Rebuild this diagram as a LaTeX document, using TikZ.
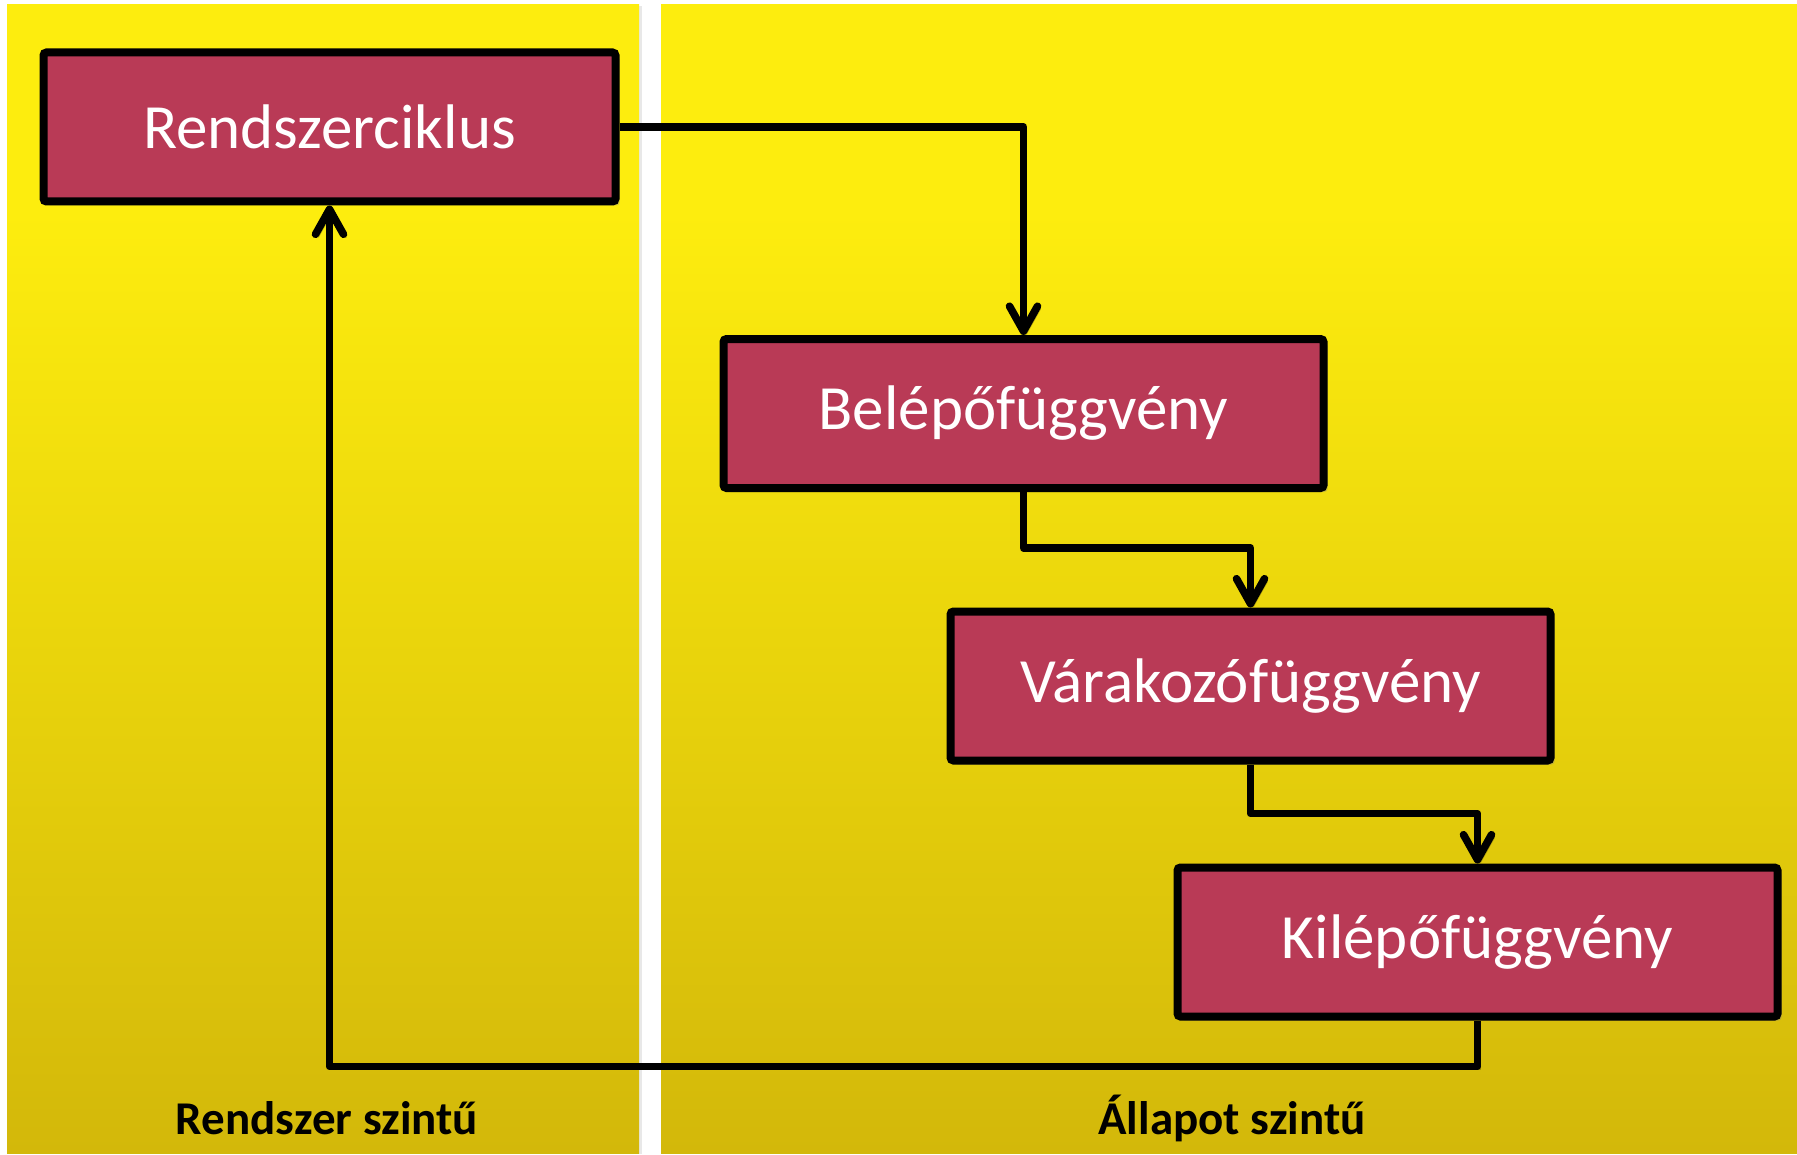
\documentclass[tikz,border=0pt]{standalone}
\usepackage{fontspec}
\setmainfont{Carlito}
\usetikzlibrary{arrows.meta,shadows}

\definecolor{boxfill}{RGB}{185,58,86}
\definecolor{ytop}{RGB}{253,237,14}
\definecolor{ybot}{RGB}{211,184,10}

% yellow column background, bright at the top, darker towards the bottom
\pgfdeclareverticalshading{panelshade}{100bp}{%
  color(0bp)=(ybot); color(25bp)=(ybot); color(66bp)=(ytop); color(100bp)=(ytop)}

\tikzset{
  panel/.style={shading=panelshade,
    drop shadow={shadow xshift=1.5pt, shadow yshift=-0.5pt, opacity=0.18}},
  fbox/.style={rectangle, draw=black, line width=4pt, fill=boxfill,
    rounded corners=1.5pt, text=white,
    minimum width=300pt, minimum height=74.5pt,
    font=\fontsize{31.5}{38}\selectfont,
    drop shadow={shadow xshift=2pt, shadow yshift=-2pt, opacity=0.35}},
  conn/.style={line width=3.8pt, line join=round,
    -{Straight Barb[length=12.5pt,width=14pt,line cap=round,line join=round]},
    preaction={draw=black, opacity=0.22,
      transform canvas={shift={(1.5pt,-1.5pt)}}}},
  level/.style={font=\fontsize{23.5}{28}\selectfont\bfseries, text=black}
}

\begin{document}
\begin{tikzpicture}[x=0.5pt,y=-0.5pt]
  \useasboundingbox (0,0) rectangle (1797,1155);
  \fill[white] (0,0) rectangle (1797,1155);

  % the two columns
  \path[panel] (7,5) rectangle (639,1153);
  \path[panel] (661,5) rectangle (1797,1153);

  % function boxes
  \node[fbox, minimum width=286pt] (rc) at (329.5,127) {Rendszerciklus};
  \node[fbox] (be) at (1023.5,413.5) {Belépőfüggvény};
  \node[fbox] (va) at (1250.5,686) {Várakozófüggvény};
  \node[fbox] (ki) at (1477.5,942) {Kilépőfüggvény};

  % control flow
  \draw[conn] (rc.east) -| (be.north);
  \draw[conn] (be.south) -- ++(0,56) -| (va.north);
  \draw[conn] (va.south) -- ++(0,49) -| (ki.north);
  \draw[conn] (ki.south) -- ++(0,46) -| (rc.south);

  % column captions
  \node[level] (lsys) at (327,1118) {Rendszer szintű};
  \node[level] (lstate) at (1232,1118) {Állapot szintű};
\end{tikzpicture}
\end{document}
